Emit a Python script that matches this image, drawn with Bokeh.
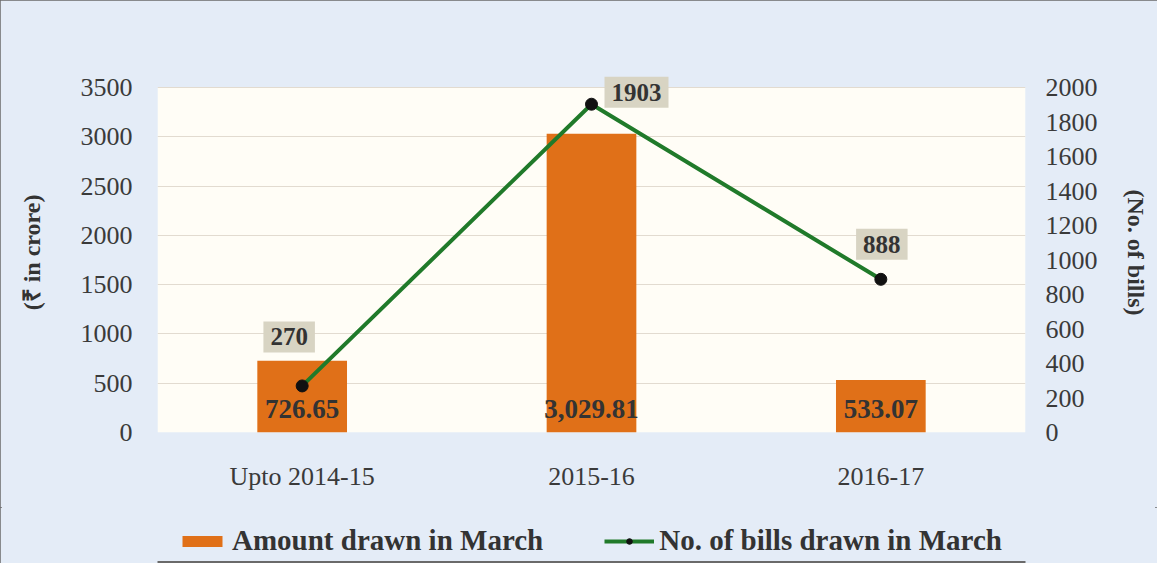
from bokeh.plotting import figure
from bokeh.layouts import column
from bokeh.models import (ColumnDataSource, Range1d, LinearAxis, FactorRange, LabelSet,
                          Legend, LegendItem, FixedTicker, BoxAnnotation)
from bokeh.core.properties import value
from bokeh.embed import file_html
from bokeh.resources import INLINE

categories = ["Upto 2014-15", "2015-16", "2016-17"]
amount_drawn = [726.65, 3029.81, 533.07]
amount_labels = ["726.65", "3,029.81", "533.07"]
bills_drawn = [270, 1903, 888]
bills_labels = ["270", "1903", "888"]
left_ticks = [0, 500, 1000, 1500, 2000, 2500, 3000, 3500]
right_ticks = [0, 200, 400, 600, 800, 1000, 1200, 1400, 1600, 1800, 2000]

FONT = "Liberation Serif"
TXT = "#3a3a3a"
BG = "#e4ecf7"
ORANGE = "#e07018"
GREEN = "#207a2a"

# frame extends 15px above the 3500 line so the "1903" box is not clipped
PLOT_H = 345.0
EXTRA = 15.0
LEFT_MAX = left_ticks[-1] * (PLOT_H + EXTRA) / PLOT_H
RIGHT_MAX = right_ticks[-1] * (PLOT_H + EXTRA) / PLOT_H

p = figure(x_range=FactorRange(*categories), y_range=Range1d(0, LEFT_MAX),
           width=1157, height=507, output_backend="svg", toolbar_location=None,
           min_border_left=157, min_border_right=132, min_border_top=72, min_border_bottom=75)
p.background_fill_color = BG
p.border_fill_color = BG
p.outline_line_color = None

p.extra_y_ranges = {"bills": Range1d(0, RIGHT_MAX)}

# cream plot area, drawn beneath the grid
cream = BoxAnnotation(bottom=0, top=left_ticks[-1], fill_color="#fffdf6", fill_alpha=1,
                      line_color=None, level="underlay")
p.center = [cream] + list(p.center)

src = ColumnDataSource(dict(cat=categories, amt=amount_drawn, amt_lbl=amount_labels,
                            bills=bills_drawn, bills_lbl=bills_labels,
                            zero=[0, 0, 0]))

p.xgrid.grid_line_color = None
p.ygrid.grid_line_color = "#e2dbd0"
p.ygrid.grid_line_width = 1

bars = p.vbar(x="cat", top="amt", width=0.31, source=src, fill_color=ORANGE, line_color=None)
line = p.line(x="cat", y="bills", source=src, y_range_name="bills", line_color=GREEN, line_width=4)
pts = p.scatter(x="cat", y="bills", source=src, y_range_name="bills", size=12,
                fill_color="#111111", line_color="#111111")

# axes
p.yaxis.ticker = FixedTicker(ticks=left_ticks)
p.yaxis.axis_label = "(₹ in crore)"
ra = LinearAxis(y_range_name="bills", ticker=FixedTicker(ticks=right_ticks), axis_label="(No. of bills)")
p.add_layout(ra, "right")

for ax in [p.xaxis[0], p.yaxis[0], ra]:
    ax.axis_line_color = None
    ax.major_tick_line_color = None
    ax.minor_tick_line_color = None
    ax.major_tick_out = 0
    ax.major_tick_in = 0
    ax.minor_tick_out = 0
    ax.major_label_text_font = FONT
    ax.major_label_text_font_size = "26px"
    ax.major_label_text_color = TXT
    ax.axis_label_text_font = FONT
    ax.axis_label_text_font_size = "24px"
    ax.axis_label_text_font_style = "bold"
    ax.axis_label_text_color = "#333333"

p.yaxis[0].major_label_standoff = 25
p.yaxis[0].axis_label_standoff = 33
ra.major_label_standoff = 20
ra.axis_label_standoff = 22
p.xaxis[0].major_label_standoff = 29

# bar labels
bar_lbls = LabelSet(x="cat", y="zero", text="amt_lbl", source=src, text_align="center",
                    text_baseline="alphabetic", y_offset=15, text_font=FONT,
                    text_font_size="27px", text_font_style="bold", text_color="#333333")
p.add_layout(bar_lbls)

# line labels (text glyph with boxed background)
lbl_src = ColumnDataSource(dict(cat=categories, bills=bills_drawn, txt=bills_labels,
                                dx=[-13, 45, 1], dy=[-49, -12, -35]))
p.text(x="cat", y="bills", text="txt", source=lbl_src, y_range_name="bills",
       x_offset="dx", y_offset="dy", text_align="center", text_baseline="middle",
       text_font=value(FONT), text_font_size="25px", text_font_style="bold",
       text_color="#333333", background_fill_color="#d8d4c3", padding=7)

# legend strip below the chart (its frame is aligned with the chart's frame)
lg = figure(x_range=FactorRange(*categories), y_range=Range1d(0, 1),
            width=1157, height=56, output_backend="svg", toolbar_location=None,
            min_border=0, x_axis_location=None, y_axis_location=None)
lg.grid.visible = False
lg.background_fill_alpha = 0
lg.border_fill_color = BG
lg.outline_line_color = None
nan = float("nan")
legend_src = ColumnDataSource(dict(cat=categories, amt=[nan] * len(categories),
                                   bills=[nan] * len(categories)))
lb = lg.vbar(x="cat", top="amt", width=0.31, source=legend_src, fill_color=ORANGE, line_color=None)
ll = lg.line(x="cat", y="bills", source=legend_src, line_color=GREEN, line_width=4)
lp = lg.scatter(x="cat", y="bills", source=legend_src, size=10, fill_color="#111111", line_color="#111111")

legend = Legend(items=[LegendItem(label="Amount drawn in March", renderers=[lb]),
                       LegendItem(label="No. of bills drawn in March", renderers=[ll, lp])],
                orientation="horizontal", location=(20, 6),
                label_text_font=FONT, label_text_font_size="29px", label_text_font_style="bold",
                label_text_color="#333333", glyph_width=50, glyph_height=14,
                spacing=61, label_standoff=5, background_fill_alpha=0, border_line_color=None,
                margin=0, padding=0)
lg.add_layout(legend)

layout = column(p, lg, spacing=0)
layout.styles = {"outline": "2px solid #6a6a6a", "outline-offset": "-2px", "background": BG}

open("out.html", "w").write(file_html(layout, INLINE))
